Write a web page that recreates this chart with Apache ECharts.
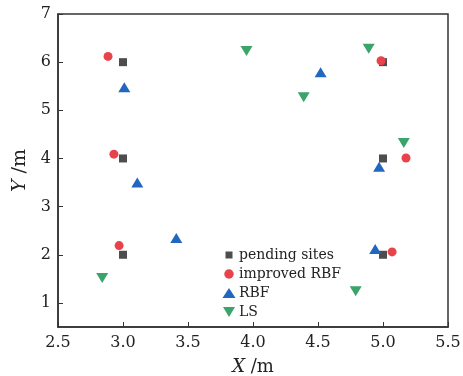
<!DOCTYPE html>
<html>
<head>
<meta charset="utf-8">
<script src="https://cdn.jsdelivr.net/npm/echarts@6/dist/echarts.min.js"></script>
<style>html,body{margin:0;padding:0;background:#fff}#c{width:463px;height:376px}</style>
</head>
<body>
<div id="c"></div>
<script>
const pendingX = [3.0, 3.0, 3.0, 5.0, 5.0, 5.0];
const pendingY = [6.0, 4.0, 2.0, 6.0, 4.0, 2.0];
const improvedX = [2.885, 2.93, 2.97, 4.985, 5.177, 5.07];
const improvedY = [6.12, 4.09, 2.19, 6.03, 4.01, 2.06];
const rbfX = [3.01, 3.11, 3.41, 4.52, 4.97, 4.94];
const rbfY = [5.48, 3.50, 2.35, 5.79, 3.83, 2.12];
const lsX = [3.95, 4.89, 4.39, 5.16, 2.84, 4.79];
const lsY = [6.23, 6.28, 5.27, 4.32, 1.52, 1.24];
const seriesNames = ['pending sites', 'improved RBF', 'RBF', 'LS'];
const xTicks = [2.5, 3.0, 3.5, 4.0, 4.5, 5.0, 5.5];
const yTicks = [1, 2, 3, 4, 5, 6, 7];

const zip = (xs, ys) => xs.map((x, i) => [x, ys[i]]);
const font = 'DejaVu Serif';
const box = 'M0,0M14,10';
const legendIcons = [
  'path://' + box + 'M3.5,1.5h7v7h-7z',
  'path://' + box + 'M2.25,5a4.75,4.75 0 1,0 9.5,0a4.75,4.75 0 1,0 -9.5,0z',
  'path://' + box + 'M7,0L13.5,10L0.5,10Z',
  'path://' + box + 'M1,0L13,0L7,10Z'
];
const chart = echarts.init(document.getElementById('c'), null, {renderer: 'canvas'});
chart.setOption({
  animation: false,
  grid: {left: 58, right: 15, top: 14, bottom: 49, show: true, borderColor: '#333', borderWidth: 1.5, outerBoundsMode: 'none', containLabel: false},
  legend: {
    orient: 'vertical', left: 222, top: 247, padding: 0, itemGap: 3, itemWidth: 14, itemHeight: 10,
    textStyle: {fontFamily: font, fontSize: 14, color: '#222', lineHeight: 16, padding: [0, 0, 0, -2]},
    data: seriesNames.map((n, i) => ({name: n, icon: legendIcons[i]}))
  },
  xAxis: {
    type: 'value', min: 2.5, max: 5.5, interval: 0.5,
    axisLine: {lineStyle: {color: '#333', width: 1.5}},
    axisTick: {inside: true, length: 5, lineStyle: {color: '#333'}, customValues: xTicks},
    axisLabel: {fontFamily: font, fontSize: 16, color: '#222', margin: 8, customValues: xTicks, formatter: v => v.toFixed(1)},
    splitLine: {show: false},
    name: '{i|X} /m', nameLocation: 'middle', nameGap: 31,
    nameTextStyle: {fontFamily: font, fontSize: 18, color: '#222', rich: {i: {fontFamily: font, fontStyle: 'italic', fontSize: 18, color: '#222'}}}
  },
  yAxis: {
    type: 'value', min: 0.5, max: 7,
    axisLine: {lineStyle: {color: '#333', width: 1.5}},
    axisTick: {inside: true, length: 5, lineStyle: {color: '#333'}, customValues: yTicks},
    axisLabel: {fontFamily: font, fontSize: 16, color: '#222', margin: 7, customValues: yTicks},
    splitLine: {show: false},
    name: '{i|Y} /m', nameLocation: 'middle', nameGap: 23, nameRotate: 90,
    nameTextStyle: {fontFamily: font, fontSize: 19, color: '#222', rich: {i: {fontFamily: font, fontStyle: 'italic', fontSize: 19, color: '#222'}}}
  },
  series: [
    {name: seriesNames[0], type: 'scatter', symbol: 'rect', symbolSize: 8, itemStyle: {color: '#4d4d4d', opacity: 1}, data: zip(pendingX, pendingY), z: 2},
    {name: seriesNames[1], type: 'scatter', symbol: 'circle', symbolSize: 9, itemStyle: {color: '#e8434b', opacity: 1}, data: zip(improvedX, improvedY), z: 3},
    {name: seriesNames[2], type: 'scatter', symbol: 'triangle', symbolSize: [12, 10], itemStyle: {color: '#2167c0', opacity: 1}, data: zip(rbfX, rbfY), z: 4},
    {name: seriesNames[3], type: 'scatter', symbol: 'triangle', symbolRotate: 180, symbolSize: [12, 10], itemStyle: {color: '#3ba46b', opacity: 1}, data: zip(lsX, lsY), z: 4}
  ]
});
</script>
</body>
</html>
